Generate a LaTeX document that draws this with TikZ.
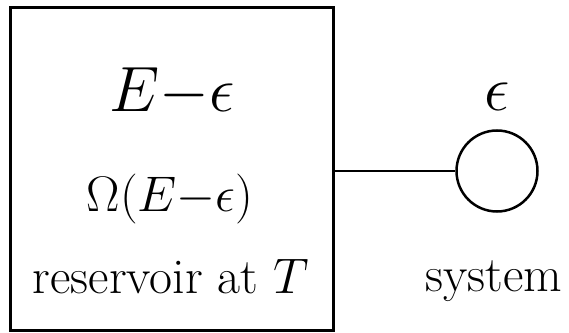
\RequirePackage{fix-cm}
\documentclass[tikz,border=0pt]{standalone}
\begin{document}
\begin{tikzpicture}[x=1pt,y=1pt,
  txt/.style={anchor=base,inner sep=0pt,font=\fontsize{50}{54}\selectfont},
  big/.style={anchor=base,inner sep=0pt,font=\fontsize{64}{68}\selectfont}]
\useasboundingbox (0,0) rectangle (569,332);
\node[draw,line width=3pt,minimum width=323pt,minimum height=322pt,inner sep=0pt] (res) at (171.5,163) {};
\node[draw,circle,line width=2.5pt,minimum size=81pt,inner sep=0pt] (sys) at (497,161) {};
\draw[line width=2.2pt] (res.east |- sys.west) -- (sys.west);
\node[big] (e1) at (172,220) {$E{-}\epsilon$};
\node[txt] (om) at (170,121) {$\Omega(E{-}\epsilon)$};
\node[txt] (rl) at (171,39) {reservoir at $T$};
\node[big] (eps) at (497,221) {$\epsilon$};
\node[txt] (sl) at (494,41) {system};
\end{tikzpicture}
\end{document}
